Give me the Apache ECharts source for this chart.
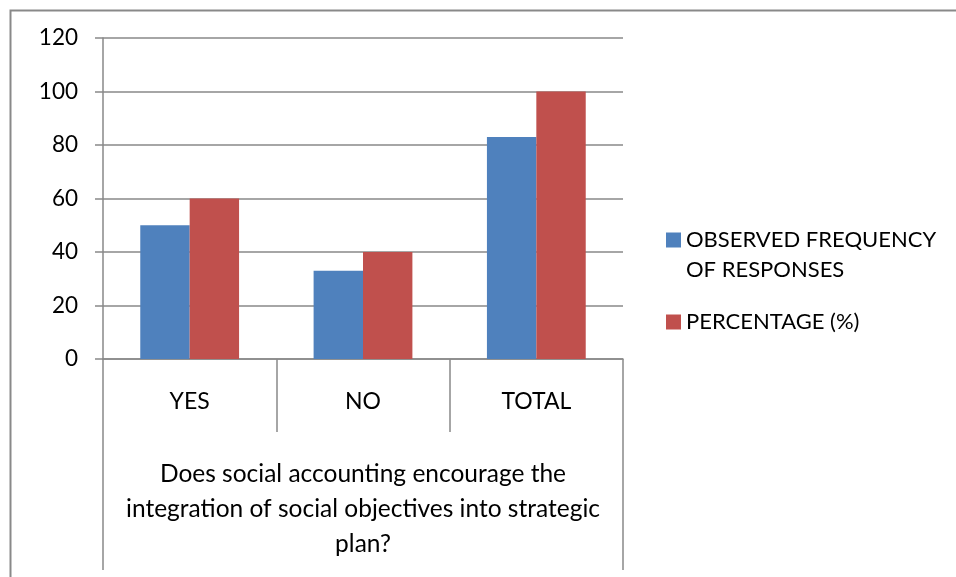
<!DOCTYPE html>
<html>
<head>
<meta charset="utf-8">
<style>
  html, body { margin: 0; padding: 0; background: #fff; }
  #chart { width: 956px; height: 577px; }
</style>
<script src="https://cdn.jsdelivr.net/npm/echarts@6/dist/echarts.min.js"></script>
</head>
<body>
<div id="chart"></div>
<script>
// chart data
var categories = ['YES', 'NO', 'TOTAL']
var question = 'Does social accounting encourage the\nintegration of social objectives into strategic\nplan?'
var observedFrequency = [50, 33, 83]
var percentage = [60, 40, 100]
var seriesNames = ['OBSERVED FREQUENCY OF RESPONSES', 'PERCENTAGE (%)']

var gray = '#898989'
var font = 'Lato'

var chart = echarts.init(document.getElementById('chart'))
chart.setOption({
  animation: false,
  textStyle: { fontFamily: font },
  grid: { left: 103, top: 38, width: 520, height: 321, containLabel: false },
  legend: [
    {
      data: [seriesNames[0]],
      orient: 'vertical',
      left: 661,
      top: 190,
      icon: 'rect',
      itemWidth: 15,
      itemHeight: 15,
      // blank first line keeps the swatch level with the first text line
      formatter: function () { return '\nOBSERVED FREQUENCY\nOF RESPONSES' },
      textStyle: { fontSize: 22, color: '#000', lineHeight: 30 }
    },
    {
      data: [seriesNames[1]],
      orient: 'vertical',
      left: 661,
      top: 306,
      icon: 'rect',
      itemWidth: 15,
      itemHeight: 15,
      textStyle: { fontSize: 22, color: '#000' }
    }
  ],
  xAxis: [
    {
      type: 'category',
      data: categories,
      axisLine: { lineStyle: { color: gray, width: 1.5 } },
      axisTick: { show: true, length: 73, lineStyle: { color: gray, width: 1.5 } },
      axisLabel: { fontSize: 23, color: '#000', margin: 31 }
    },
    {
      type: 'category',
      position: 'bottom',
      data: [question],
      axisLine: { show: false },
      axisTick: { show: true, length: 211, lineStyle: { color: gray, width: 1.5 } },
      axisLabel: { fontSize: 24.5, color: '#000', margin: 98, lineHeight: 35, align: 'center' }
    }
  ],
  yAxis: {
    type: 'value',
    min: 0,
    max: 120,
    interval: 20,
    axisLine: { show: true, lineStyle: { color: gray, width: 1.5 } },
    axisTick: { show: true, length: 8, lineStyle: { color: gray, width: 1.5 } },
    axisLabel: { fontSize: 22.5, color: '#000', margin: 25 },
    splitLine: { lineStyle: { color: gray, width: 1.5 } }
  },
  series: [
    {
      name: seriesNames[0],
      type: 'bar',
      data: observedFrequency,
      itemStyle: { color: '#4F81BD' },
      barGap: '0%',
      barCategoryGap: '43%'
    },
    {
      name: seriesNames[1],
      type: 'bar',
      data: percentage,
      itemStyle: { color: '#C0504D' }
    }
  ],
  graphic: [
    {
      type: 'rect',
      left: 8,
      top: 8,
      shape: { width: 1000, height: 1000 },
      style: { fill: 'none', stroke: gray, lineWidth: 2 },
      silent: true
    }
  ]
})
</script>
</body>
</html>
